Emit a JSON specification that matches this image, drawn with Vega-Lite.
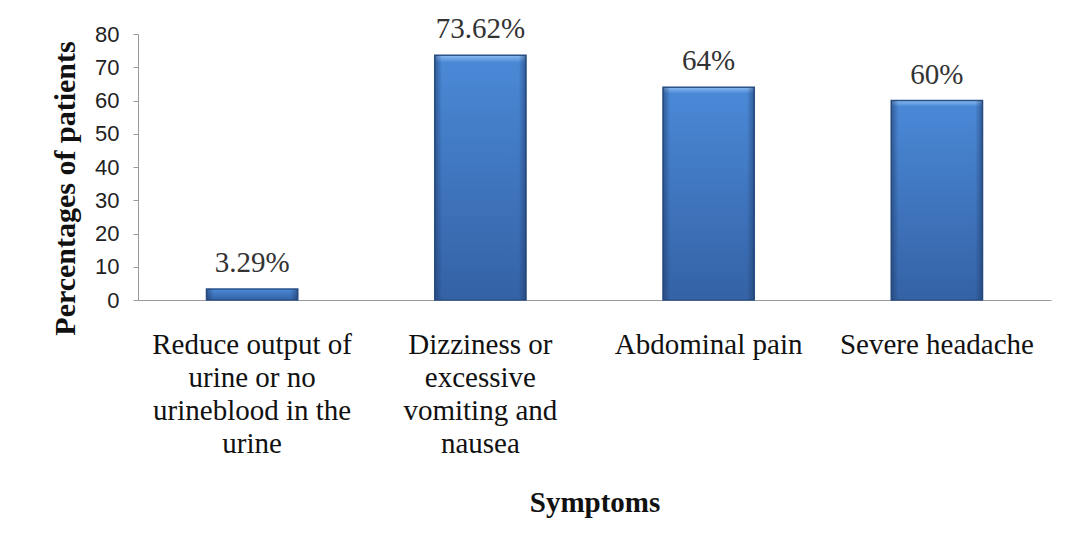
{
  "$schema": "https://vega.github.io/schema/vega-lite/v6.json",
  "autosize": "none",
  "width": 913,
  "height": 266,
  "padding": {"left": 138, "top": 34, "right": 17, "bottom": 244},
  "background": "white",
  "config": {"view": {"stroke": null}},
  "data": {
    "values": [
      {"symptom": "Reduce output of urine or no urineblood in the urine", "percent": 3.29, "label": "3.29%"},
      {"symptom": "Dizziness or excessive vomiting and nausea", "percent": 73.62, "label": "73.62%"},
      {"symptom": "Abdominal pain", "percent": 64, "label": "64%"},
      {"symptom": "Severe headache", "percent": 60, "label": "60%"}
    ]
  },
  "encoding": {
    "x": {
      "field": "symptom",
      "type": "nominal",
      "sort": null,
      "scale": {"paddingInner": 0.6, "paddingOuter": 0.3},
      "axis": {
        "title": "Symptoms",
        "titleFont": "Liberation Serif",
        "titleFontSize": 29,
        "titleFontWeight": "bold",
        "titleColor": "#111",
        "titlePadding": 30,
        "labelAngle": 0,
        "labelFont": "Liberation Serif",
        "labelFontSize": 29,
        "labelLineHeight": 33,
        "labelColor": "#111",
        "labelPadding": 30,
        "labelLimit": 400,
        "labelOverlap": false,
        "labelBound": false,
        "ticks": false,
        "domainColor": "#999",
        "labelExpr": "datum.label == 'Reduce output of urine or no urineblood in the urine' ? ['Reduce output of', 'urine or no', 'urineblood in the', 'urine'] : datum.label == 'Dizziness or excessive vomiting and nausea' ? ['Dizziness or', 'excessive', 'vomiting and', 'nausea'] : datum.label"
      }
    },
    "y": {
      "field": "percent",
      "type": "quantitative",
      "scale": {"domain": [0, 80], "nice": false},
      "axis": {
        "title": "Percentages of patients",
        "titleFont": "Liberation Serif",
        "titleFontSize": 30,
        "titleFontWeight": "bold",
        "titleColor": "#111",
        "titlePadding": 14,
        "titleY": 154,
        "values": [0, 10, 20, 30, 40, 50, 60, 70, 80],
        "grid": false,
        "labelFont": "Liberation Sans",
        "labelFontSize": 22,
        "labelColor": "#222",
        "labelPadding": 14,
        "tickSize": 5,
        "tickColor": "#999",
        "domainColor": "#999"
      }
    }
  },
  "layer": [
    {
      "mark": {
        "type": "bar",
        "stroke": "#2b538a",
        "strokeWidth": 1.5,
        "fill": {
          "gradient": "linear",
          "x1": 0, "y1": 0, "x2": 0, "y2": 1,
          "stops": [
            {"offset": 0, "color": "#8cbcf2"},
            {"offset": 0.03, "color": "#4a88d6"},
            {"offset": 1, "color": "#3462a5"}
          ]
        }
      }
    },
    {
      "mark": {
        "type": "bar",
        "strokeWidth": 0,
        "fill": {
          "gradient": "linear",
          "x1": 0, "y1": 0, "x2": 1, "y2": 0,
          "stops": [
            {"offset": 0, "color": "rgba(30,55,100,0.55)"},
            {"offset": 0.08, "color": "rgba(30,55,100,0)"},
            {"offset": 0.92, "color": "rgba(30,55,100,0)"},
            {"offset": 1, "color": "rgba(30,55,100,0.55)"}
          ]
        }
      }
    },
    {
      "mark": {
        "type": "text",
        "font": "Liberation Serif",
        "fontSize": 29,
        "color": "#333",
        "baseline": "alphabetic",
        "dy": -17
      },
      "encoding": {"text": {"field": "label"}}
    }
  ]
}
